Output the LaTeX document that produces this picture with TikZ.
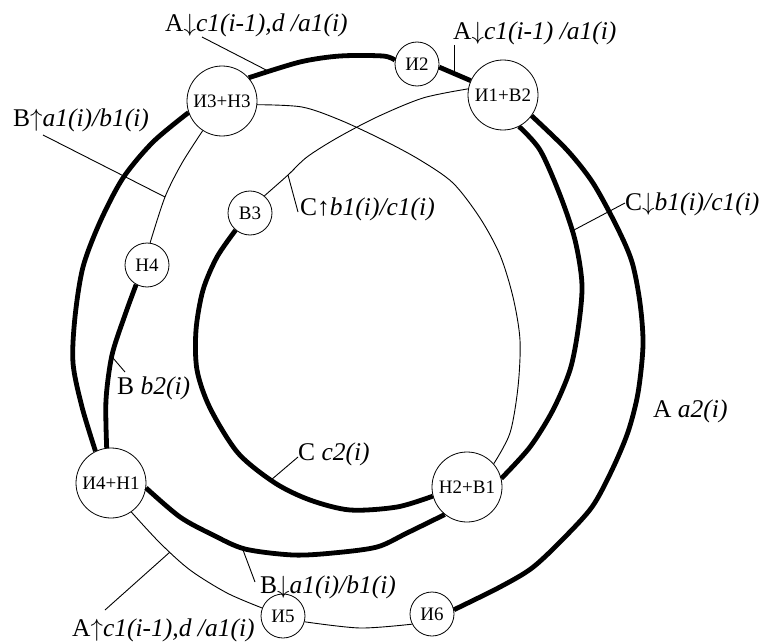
\documentclass[tikz,border=0pt]{standalone}
\usepackage{fontspec}
\setmainfont{Liberation Serif}
\newcommand{\dnarr}{\ensuremath{\downarrow}}
\newcommand{\uparr}{\ensuremath{\uparrow}}
\begin{document}
\begin{tikzpicture}[x=1pt,y=-1pt,
  bignode/.style={draw, circle, minimum size=70pt, inner sep=0pt, line width=0.8pt, font=\fontsize{19}{21}\selectfont},
  smallnode/.style={draw, circle, minimum size=44pt, inner sep=0pt, line width=0.8pt, font=\fontsize{19}{21}\selectfont},
  lbl/.style={anchor=base west, inner sep=0pt, font=\fontsize{25.5}{28}\selectfont},
  heavy/.style={line width=4.8pt},
  fine/.style={line width=0.9pt},
  leader/.style={line width=0.9pt}]
\useasboundingbox (0,0) rectangle (764,642);

% nodes
\node[bignode] (I3H3) at (222,101) {И3+Н3};
\node[smallnode] (I2) at (417,64) {И2};
\node[bignode] (I1B2) at (503,95) {И1+В2};
\node[smallnode] (B3) at (250,213) {В3};
\node[smallnode] (H4) at (147,265) {Н4};
\node[bignode] (I4H1) at (111,483) {И4+Н1};
\node[bignode] (H2B1) at (467,487) {Н2+В1};
\node[smallnode] (I5) at (283,616) {И5};
\node[smallnode] (I6) at (432,614) {И6};

% heavy connectors
\draw[heavy] plot[smooth] coordinates {(I3H3.41) (300,62) (340,56) (383,56) (I2.170)};
\draw[heavy] (I2.-8) -- (I1B2.156);
\draw[heavy] plot[smooth] coordinates {(I3H3.199) (153,142) (123,178) (100,222) (83,267) (75,317) (73,363) (82,407) (I4H1.116)};
\draw[heavy] plot[smooth] coordinates {(H4.241) (125,315) (112,355) (106,400) (I4H1.97)};
\draw[heavy] plot[smooth] coordinates {(B3.230) (217,257) (203,290) (196,330) (197,370) (210,408) (238,453) (275,483) (310,500) (350,510) (397,507) (H2B1.195)};
\draw[heavy] plot[smooth] coordinates {(I1B2.297) (540,150) (560,195) (575,240) (582,285) (578,330) (570,370) (553,410) (530,447) (H2B1.14)};
\draw[heavy] plot[smooth] coordinates {(I1B2.-36) (567,150) (593,183) (617,227) (632,262) (640,303) (643,345) (638,393) (628,432) (612,470) (592,507) (562,540) (532,568) (500,587) (I6.11)};
\draw[heavy] plot[smooth] coordinates {(I4H1.-8) (180,517) (213,535) (245,549) (293,555) (333,553) (377,547) (407,533) (H2B1.231)};

% thin connectors
\draw[fine] plot[smooth] coordinates {(I3H3.-6) (302,107) (340,120) (383,140) (420,160) (453,183) (480,218) (500,255) (513,297) (520,340) (518,387) (510,433) (H2B1.41)};
\draw[fine] plot[smooth] coordinates {(I1B2.170) (423,98) (377,117) (337,138) (307,157) (288,175) (B3.50)};
\draw[fine] plot[smooth] coordinates {(I3H3.237) (182,163) (165,197) (H4.82)};
\draw[fine] plot[smooth] coordinates {(I4H1.-55) (160,543) (190,570) (227,593) (I5.159)};
\draw[fine] plot[smooth] coordinates {(I5.-15) (360,628) (I6.207)};

% labels
\node[lbl] (l1) at (165,32) {A\dnarr\textit{c1(i-1),d /a1(i)}};
\node[lbl] (l2) at (453,40) {A\dnarr\textit{c1(i-1) /a1(i)}};
\node[lbl] (l3) at (13,127) {B\uparr\textit{a1(i)/b1(i)}};
\node[lbl] (l4) at (300,215) {C↑\textit{b1(i)/c1(i)}};
\node[lbl] (l5) at (625,210) {C\dnarr\textit{b1(i)/c1(i)}};
\node[lbl] (l6) at (117,394) {B \textit{b2(i)}};
\node[lbl] (l7) at (653,417) {A \textit{a2(i)}};
\node[lbl] (l8) at (298,460) {C \textit{c2(i)}};
\node[lbl] (l9) at (260,593) {B\dnarr\textit{a1(i)/b1(i)}};
\node[lbl] (l10) at (72,636) {A\uparr\textit{c1(i-1),d /a1(i)}};

% leader ends
\coordinate (s1) at (202,37); \coordinate (e1) at (270,72);
\coordinate (s2) at (454,45); \coordinate (e2) at (454,74);
\coordinate (s3) at (43,135); \coordinate (e3) at (165,197);
\coordinate (s4) at (298,212); \coordinate (e4) at (288,175);
\coordinate (s5) at (625,203); \coordinate (e5) at (574,230);
\coordinate (s6) at (125,372); \coordinate (e6) at (113,358);
\coordinate (s8) at (298,457); \coordinate (e8) at (271,480);
\coordinate (s9) at (255,582); \coordinate (e9) at (243,550);
\coordinate (s10) at (105,610); \coordinate (e10) at (170,552);
\foreach \i in {1,2,3,4,5,6,8,9,10} {\draw[leader] (s\i) -- (e\i);}
\end{tikzpicture}
\end{document}
